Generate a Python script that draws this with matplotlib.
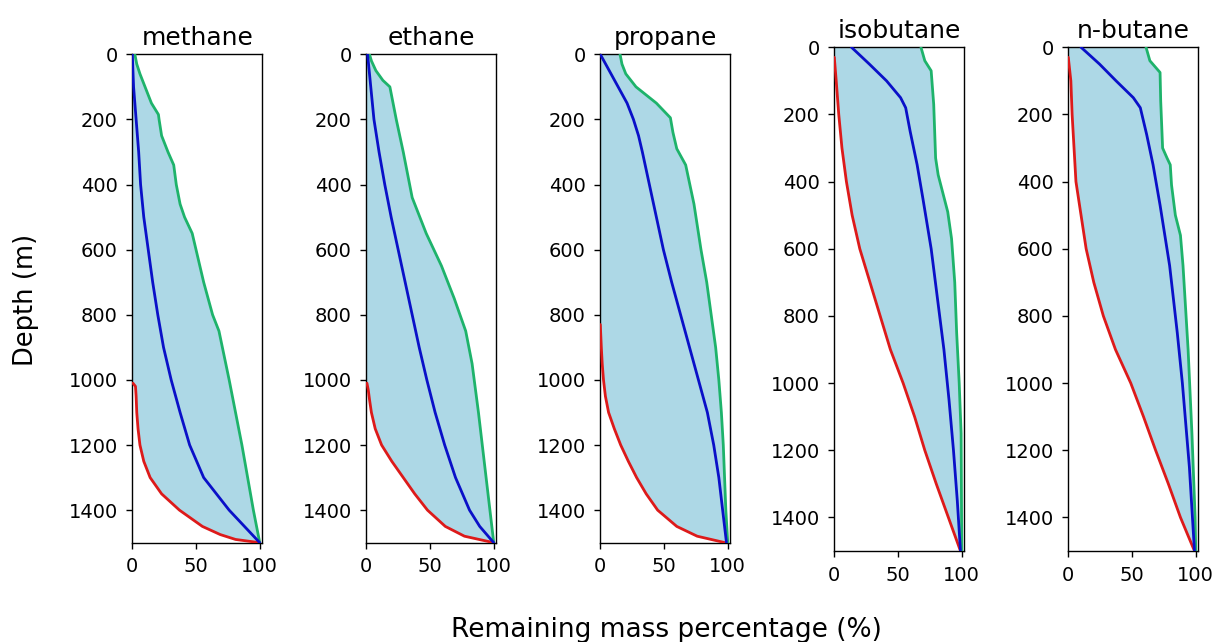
import numpy as np
import matplotlib
matplotlib.use("Agg")
import matplotlib.pyplot as plt

# ---------------- data (depth in m, remaining mass percentage in %) ----------------
gases = ["methane", "ethane", "propane", "isobutane", "n-butane"]

methane_green_depth = [0, 30, 60, 100, 150, 185, 200, 250, 300, 340, 400, 460, 500, 550, 600, 700, 800, 850, 1000, 1200, 1400, 1500]
methane_green_pct = [2, 3.5, 6, 10, 15, 20.5, 21, 23, 28, 32.5, 34.5, 37.5, 41, 47, 50, 56, 63, 68, 76, 86, 95, 100]
methane_blue_depth = [0, 100, 200, 300, 400, 500, 600, 700, 800, 900, 1000, 1100, 1200, 1300, 1400, 1500]
methane_blue_pct = [0, 1, 3, 5, 6.5, 9, 12.5, 16, 20, 24.5, 30.5, 37.5, 45, 56, 76, 100]
methane_red_depth = [1010, 1020, 1050, 1100, 1150, 1200, 1250, 1300, 1350, 1400, 1450, 1475, 1490, 1500]
methane_red_pct = [0.5, 2.5, 3, 3.5, 4.5, 6, 9, 14, 23, 37, 55, 69, 81, 100]

ethane_green_depth = [0, 20, 50, 80, 100, 200, 300, 440, 550, 650, 750, 850, 950, 1100, 1300, 1500]
ethane_green_pct = [2.5, 4, 7.5, 13, 18.5, 23.5, 29, 36, 47, 59, 69, 78, 83, 88, 94, 100]
ethane_blue_depth = [0, 100, 200, 300, 400, 500, 600, 700, 800, 900, 1000, 1100, 1200, 1300, 1400, 1450, 1500]
ethane_blue_pct = [1, 3.5, 6, 10, 14.5, 19.5, 25, 30.5, 36, 41.5, 47.5, 54, 61.5, 70, 81, 89, 100]
ethane_red_depth = [1010, 1030, 1060, 1100, 1150, 1200, 1250, 1300, 1350, 1400, 1450, 1480, 1500]
ethane_red_pct = [0.5, 1.5, 2.5, 4, 7, 12, 20, 29, 38, 48, 62, 77, 100]

propane_green_depth = [0, 30, 60, 100, 150, 195, 240, 290, 340, 460, 600, 700, 800, 900, 1000, 1100, 1200, 1300, 1400, 1500]
propane_green_pct = [15.5, 17, 20, 28, 44, 55, 57, 60, 67, 73.5, 79, 83.5, 87, 90.5, 93, 95, 96.5, 97.5, 98.5, 100]
propane_blue_depth = [0, 50, 100, 150, 200, 250, 300, 400, 500, 600, 700, 800, 900, 1000, 1100, 1200, 1300, 1400, 1500]
propane_blue_pct = [0, 7, 14, 21, 26, 30, 33, 38.5, 44, 49.5, 56, 63, 70, 77, 84, 89, 93, 96, 99]
propane_red_depth = [830, 900, 950, 1000, 1050, 1100, 1150, 1200, 1250, 1300, 1350, 1400, 1450, 1480, 1500]
propane_red_pct = [0, 0.8, 1.5, 2.5, 4, 6.5, 11, 16, 22, 28.5, 36, 45, 60, 76, 98]

isobutane_green_depth = [0, 40, 70, 170, 330, 380, 490, 570, 700, 850, 1000, 1150, 1500]
isobutane_green_pct = [68, 71, 76, 78, 79.5, 81.5, 89, 92, 94.5, 96, 98, 99.5, 100]
isobutane_blue_depth = [0, 50, 100, 150, 180, 250, 350, 450, 600, 750, 900, 1050, 1200, 1350, 1500]
isobutane_blue_pct = [13.5, 27.5, 41, 52, 56, 59.5, 65, 69.5, 76, 81, 86, 90, 93.5, 96.5, 99]
isobutane_red_depth = [30, 100, 200, 300, 400, 500, 600, 700, 800, 900, 1000, 1100, 1200, 1300, 1400, 1500]
isobutane_red_pct = [0, 1.5, 3.5, 6, 9.5, 14, 20, 28, 36, 44, 54, 63, 71, 80, 89.5, 99]

nbutane_green_depth = [0, 40, 75, 160, 300, 330, 350, 410, 500, 560, 650, 900, 1150, 1400, 1500]
nbutane_green_pct = [61, 64, 72, 72.5, 74, 77.5, 80, 81, 84, 88, 90, 94, 97, 99.5, 100]
nbutane_blue_depth = [0, 50, 100, 150, 180, 260, 350, 470, 650, 850, 1000, 1250, 1500]
nbutane_blue_pct = [10, 24.5, 37.5, 51, 56.5, 61.5, 66.5, 72, 79.5, 85.5, 89.5, 95, 99]
nbutane_red_depth = [30, 100, 200, 300, 400, 500, 600, 700, 800, 900, 1000, 1100, 1200, 1300, 1400, 1500]
nbutane_red_pct = [0, 2, 3, 4.5, 6, 10, 14, 20, 27.5, 37, 49, 59, 68.5, 78.5, 88, 99]

y_ticks = [0, 200, 400, 600, 800, 1000, 1200, 1400]
x_ticks = [0, 50, 100]

series = {
    "methane": (methane_red_depth, methane_red_pct, methane_blue_depth, methane_blue_pct, methane_green_depth, methane_green_pct),
    "ethane": (ethane_red_depth, ethane_red_pct, ethane_blue_depth, ethane_blue_pct, ethane_green_depth, ethane_green_pct),
    "propane": (propane_red_depth, propane_red_pct, propane_blue_depth, propane_blue_pct, propane_green_depth, propane_green_pct),
    "isobutane": (isobutane_red_depth, isobutane_red_pct, isobutane_blue_depth, isobutane_blue_pct, isobutane_green_depth, isobutane_green_pct),
    "n-butane": (nbutane_red_depth, nbutane_red_pct, nbutane_blue_depth, nbutane_blue_pct, nbutane_green_depth, nbutane_green_pct),
}

# ---------------- figure ----------------
W, H = 1217, 642
fig = plt.figure(figsize=(W / 100, H / 100), dpi=100)
plt.rcParams["font.family"] = "DejaVu Sans"

lefts = [132.3, 366.3, 600.3, 834.3, 1068.3]
tops = [54.3, 54.3, 54.3, 47.3, 47.3]
bottoms = [542.7, 542.7, 542.7, 551.0, 551.0]
width = 130.0

RED = "#dd1a1a"
BLUE = "#0a10c8"
GREEN = "#1eb36b"
FILL = "#add8e6"

for i, g in enumerate(gases):
    rd, rp, bd, bp, gd, gp = series[g]
    ax = fig.add_axes([lefts[i] / W, 1 - bottoms[i] / H, width / W, (bottoms[i] - tops[i]) / H])
    grid = np.linspace(0, 1500, 1501)
    lo = np.interp(grid, rd, rp, left=0.0)
    hi = np.interp(grid, gd, gp)
    ax.fill_betweenx(grid, lo, hi, color=FILL, lw=0, zorder=1)
    ax.plot(rp, rd, color=RED, lw=2.0, zorder=3, solid_capstyle="round")
    ax.plot(gp, gd, color=GREEN, lw=2.0, zorder=3, solid_capstyle="round")
    ax.plot(bp, bd, color=BLUE, lw=2.0, zorder=4, solid_capstyle="round")
    ax.set_xlim(0, 102)
    ax.set_ylim(1500, 0)
    ax.set_xticks(x_ticks)
    ax.set_yticks(y_ticks)
    ax.tick_params(labelsize=14, length=4.5, width=1.0, pad=6)
    for s in ax.spines.values():
        s.set_linewidth(1.0)
    ax.set_title(g, fontsize=18, pad=7)

fig.text(26 / W, 1 - 300 / H, "Depth (m)", rotation=90, ha="center", va="center", fontsize=18.5)
fig.text(666 / W, 1 - 637 / H, "Remaining mass percentage (%)", ha="center", va="baseline", fontsize=19)

fig.savefig("out.png", dpi=100)
